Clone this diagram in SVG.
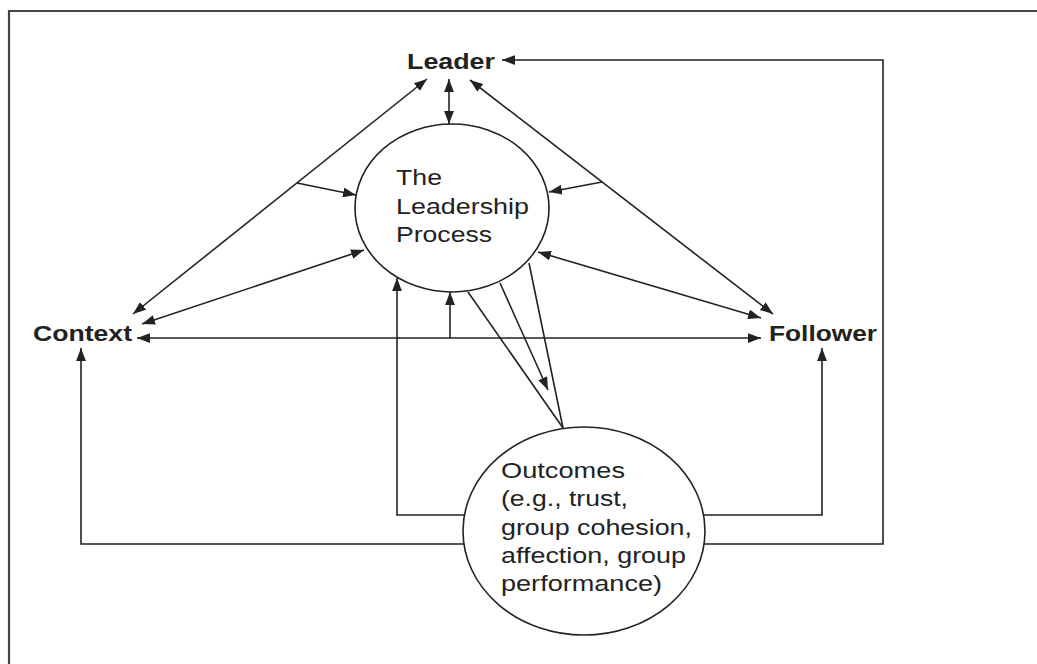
<svg xmlns="http://www.w3.org/2000/svg" width="1037" height="664" viewBox="0 0 1037 664">
<style>
.ln{fill:none;stroke:#222;stroke-width:1.6}
.fr{fill:none;stroke:#444;stroke-width:2.2}
.el{fill:#fff;stroke:#222;stroke-width:1.6}
.lb{font-family:"Liberation Sans",Arial,sans-serif;font-size:22px;font-weight:bold;fill:#222}
.tx{font-family:"Liberation Sans",Arial,sans-serif;font-size:22px;fill:#222}
</style>
<defs>
<marker id="ah" markerUnits="userSpaceOnUse" markerWidth="13" markerHeight="10" refX="12" refY="4.5" orient="auto-start-reverse" viewBox="0 0 12 9">
<path d="M0,0 L12,4.5 L0,9 z" fill="#222"/>
</marker>
</defs>
<rect width="1037" height="664" fill="#fff"/>
<g id="frame">
<path class="fr" d="M9,664 V11 H1037"/>
</g>
<g id="connectors">
<line class="ln" x1="449" y1="79" x2="449" y2="124" marker-start="url(#ah)" marker-end="url(#ah)"/>
<line class="ln" x1="427" y1="79" x2="133" y2="314" marker-start="url(#ah)" marker-end="url(#ah)"/>
<line class="ln" x1="470" y1="80" x2="773" y2="314" marker-start="url(#ah)" marker-end="url(#ah)"/>
<line class="ln" x1="297" y1="183" x2="356" y2="195" marker-end="url(#ah)"/>
<line class="ln" x1="602" y1="182" x2="549" y2="192" marker-end="url(#ah)"/>
<line class="ln" x1="142" y1="324" x2="364" y2="250" marker-start="url(#ah)" marker-end="url(#ah)"/>
<line class="ln" x1="538" y1="252" x2="761" y2="318" marker-start="url(#ah)" marker-end="url(#ah)"/>
<line class="ln" x1="137" y1="338" x2="761" y2="338" marker-start="url(#ah)" marker-end="url(#ah)"/>
<line class="ln" x1="450" y1="338" x2="450" y2="292" marker-end="url(#ah)"/>
<path class="ln" d="M465,515 H397 V278" marker-end="url(#ah)"/>
<path class="ln" d="M703,515 H822 V348" marker-end="url(#ah)"/>
<path class="ln" d="M464,544 H81 V348" marker-end="url(#ah)"/>
<path class="ln" d="M704,544 H883 V60 H502" marker-end="url(#ah)"/>
<line class="ln" x1="468" y1="292" x2="563" y2="428"/>
<line class="ln" x1="529" y1="263" x2="563" y2="428"/>
<line class="ln" x1="500" y1="283" x2="548" y2="390" marker-end="url(#ah)"/>
</g>
<g id="leader">
<text class="lb" x="407" y="69" textLength="88" lengthAdjust="spacingAndGlyphs">Leader</text>
</g>
<g id="context">
<text class="lb" x="33" y="341" textLength="99" lengthAdjust="spacingAndGlyphs">Context</text>
</g>
<g id="follower">
<text class="lb" x="769" y="341" textLength="108" lengthAdjust="spacingAndGlyphs">Follower</text>
</g>
<g id="process">
<ellipse class="el" cx="452" cy="208" rx="97" ry="84"/>
<text class="tx" x="396" y="185" textLength="46" lengthAdjust="spacingAndGlyphs">The</text>
<text class="tx" x="396" y="214" textLength="133" lengthAdjust="spacingAndGlyphs">Leadership</text>
<text class="tx" x="396" y="242" textLength="96" lengthAdjust="spacingAndGlyphs">Process</text>
</g>
<g id="outcomes">
<ellipse class="el" cx="584" cy="531" rx="121" ry="104"/>
<text class="tx" x="501" y="478" textLength="124" lengthAdjust="spacingAndGlyphs">Outcomes</text>
<text class="tx" x="501" y="506" textLength="127" lengthAdjust="spacingAndGlyphs">(e.g., trust,</text>
<text class="tx" x="501" y="535" textLength="191" lengthAdjust="spacingAndGlyphs">group cohesion,</text>
<text class="tx" x="501" y="563" textLength="185" lengthAdjust="spacingAndGlyphs">affection, group</text>
<text class="tx" x="501" y="591" textLength="161" lengthAdjust="spacingAndGlyphs">performance)</text>
</g>
</svg>
